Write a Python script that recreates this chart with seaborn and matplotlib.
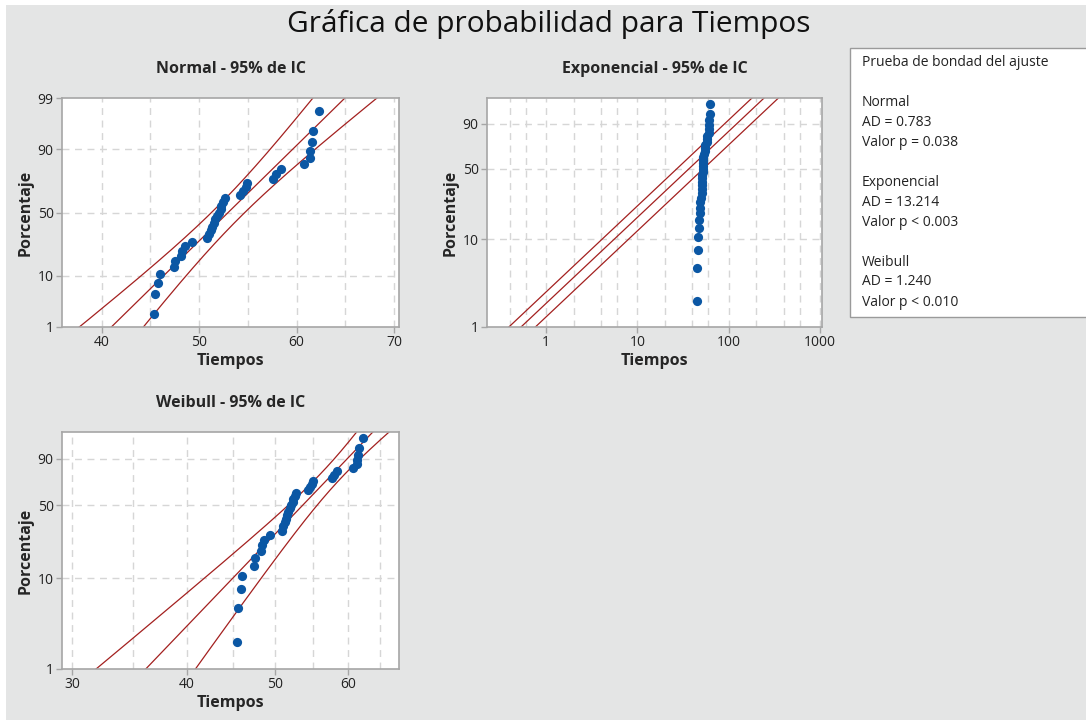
import numpy as np
import pandas as pd
import matplotlib
matplotlib.use('Agg')
import matplotlib.pyplot as plt
import seaborn as sns
from matplotlib.patches import Rectangle
from matplotlib.ticker import FixedLocator, NullFormatter
from statistics import NormalDist

# Tiempos (sorted)
tiempos = [45.4, 45.5, 45.8, 46.0, 47.4, 47.5, 48.2, 48.3, 48.6, 49.3,
           50.8, 51.0, 51.2, 51.3, 51.5, 51.6, 51.8, 52.0, 52.2, 52.3, 52.5, 52.7,
           54.2, 54.5, 54.8, 54.9, 57.6, 57.9, 58.4,
           60.8, 61.4, 61.4, 61.6, 61.7, 62.3]

# Weibull fit as drawn in the reference (shape, scale)
weibull_shape = 10.74
weibull_scale = 55.4

dist_names = ['Normal', 'Exponencial', 'Weibull']
ad_values = ['0.783', '13.214', '1.240']
p_values = ['= 0.038', '< 0.003', '< 0.010']

normal_pct_ticks = [1, 10, 50, 90, 99]
other_pct_ticks = [1, 10, 50, 90]
normal_x_ticks = [40, 50, 60, 70]
normal_x_grid = [40, 45, 50, 55, 60, 65, 70]
exp_x_ticks = [1, 10, 100, 1000]
exp_x_grid = [0.4, 0.6, 1, 2, 4, 6, 10, 20, 40, 60, 100, 200, 400, 600, 1000]
weib_x_ticks = [30, 40, 50, 60]
weib_x_grid = [30, 35, 40, 45, 50, 55, 60, 65]

BG = '#e4e5e5'
DOT = '#0b57a4'
LINE = '#a3201f'
SPINE = '#a6a6a6'
FONT = ['Open Sans', 'DejaVu Sans']

sns.set_style('white')
plt.rcParams['font.family'] = FONT
plt.rcParams['axes.unicode_minus'] = False

nd = NormalDist()
z975 = nd.inv_cdf(0.975)


def to_norm(p):
    return np.array([nd.inv_cdf(v) for v in np.atleast_1d(p)])


def to_sev(p):
    p = np.asarray(p, dtype=float)
    return np.log(-np.log(1 - p))


def chi2_ppf(q, df):
    # Wilson-Hilferty approximation
    z = nd.inv_cdf(q)
    return df * (1 - 2 / (9 * df) + z * np.sqrt(2 / (9 * df))) ** 3


x = np.sort(np.array(tiempos))
n = len(x)
ranks = np.arange(1, n + 1)
pos = (ranks - 0.3) / (n + 0.4)  # Benard median ranks
pgrid = np.linspace(0.002, 0.998, 600)

# Normal fit and CI
mu, sd = x.mean(), x.std(ddof=1)
zg = to_norm(pgrid)
nx_c = mu + zg * sd
nx_se = sd * np.sqrt((1 + zg ** 2 / 2) / n)
normal_lines = pd.DataFrame({
    'x': np.concatenate([nx_c - z975 * nx_se, nx_c, nx_c + z975 * nx_se]),
    'y': np.concatenate([zg, zg, zg]),
    'line': np.repeat(['lo', 'c', 'hi'], len(pgrid)),
})

# Exponential fit and CI
theta = x.mean()
th_lo = 2 * n * theta / chi2_ppf(0.975, 2 * n)
th_hi = 2 * n * theta / chi2_ppf(0.025, 2 * n)
wg = to_sev(pgrid)
q = -np.log(1 - pgrid)
exp_lines = pd.DataFrame({
    'x': np.concatenate([th_lo * q, theta * q, th_hi * q]),
    'y': np.concatenate([wg, wg, wg]),
    'line': np.repeat(['lo', 'c', 'hi'], len(pgrid)),
})

# Weibull line and CI on ln(x_p) = ln(eta) + w / beta
b = 1 / weibull_shape
lxp = np.log(weibull_scale) + wg * b
lse = b * np.sqrt((1.1087 - 2 * 0.2570 * wg + 0.6079 * wg ** 2) / n)
weib_lines = pd.DataFrame({
    'x': np.concatenate([np.exp(lxp - z975 * lse), np.exp(lxp), np.exp(lxp + z975 * lse)]),
    'y': np.concatenate([wg, wg, wg]),
    'line': np.repeat(['lo', 'c', 'hi'], len(pgrid)),
})

pts = pd.DataFrame({'x': x, 'ynorm': to_norm(pos), 'ysev': to_sev(pos)})

fig = plt.figure(figsize=(10.86, 7.2), dpi=100)
fig.patch.set_facecolor('white')
fig.patches.append(Rectangle((6 / 1086, 0), 1, 1 - 5 / 720, transform=fig.transFigure,
                             facecolor=BG, edgecolor='none', zorder=-10))


def px_axes(left, top, right, bottom):
    return fig.add_axes([left / 1086, 1 - bottom / 720, (right - left) / 1086, (bottom - top) / 720])


def style_axes(ax, title, xgrid, xticks, yticks, yfun, ylim, xlim, logx):
    ax.set_facecolor('white')
    if logx:
        ax.set_xscale('log')
    ax.set_xlim(*xlim)
    ax.set_ylim(*ylim)
    for xv in xgrid:
        ax.axvline(xv, color='#d6d6d6', lw=1, ls=(0, (5, 4)), zorder=0)
    for pv in [10, 50, 90]:
        ax.axhline(float(np.ravel(yfun(pv / 100))[0]), color='#d6d6d6', lw=1,
                   ls=(0, (5, 4)), zorder=0)
    ax.xaxis.set_major_locator(FixedLocator(xticks))
    ax.xaxis.set_minor_locator(FixedLocator([]))
    ax.xaxis.set_minor_formatter(NullFormatter())
    ax.set_xticklabels([str(t) for t in xticks])
    yt = [float(np.ravel(yfun(t / 100))[0]) for t in yticks]
    ax.set_yticks(yt)
    ax.set_yticklabels([str(t) for t in yticks])
    ax.tick_params(axis='both', length=4, width=1, color=SPINE, labelsize=10,
                   labelcolor='#222222', pad=2, direction='out')
    ax.tick_params(left=True, bottom=True)
    for s in ax.spines.values():
        s.set_color(SPINE)
        s.set_linewidth(1.2)
    ax.set_title(title, fontsize=11.5, fontweight='bold', pad=18)
    ax.set_xlabel('Tiempos', fontsize=11.5, fontweight='bold', labelpad=2)
    ax.set_ylabel('Porcentaje', fontsize=11.5, fontweight='bold', labelpad=3)


def draw(ax, lines, ycol):
    for name in ['lo', 'c', 'hi']:
        sns.lineplot(data=lines[lines['line'] == name], x='x', y='y', ax=ax, color=LINE,
                     lw=0.9, sort=False, estimator=None, legend=False, zorder=2)
    sns.scatterplot(data=pts, x='x', y=ycol, ax=ax, color=DOT, s=44, edgecolor=DOT,
                    linewidth=0, legend=False, zorder=3)


ax1 = px_axes(62, 98, 399, 327)
draw(ax1, normal_lines, 'ynorm')
style_axes(ax1, 'Normal - 95% de IC', normal_x_grid, normal_x_ticks, normal_pct_ticks,
           to_norm, (to_norm(0.01)[0], to_norm(0.99)[0]), (35.95, 70.5), False)

ax2 = px_axes(487, 98, 822, 327)
draw(ax2, exp_lines, 'ysev')
style_axes(ax2, 'Exponencial - 95% de IC', exp_x_grid, exp_x_ticks, other_pct_ticks,
           to_sev, (to_sev(0.01), to_sev(0.99)), (0.226, 1050), True)

ax3 = px_axes(62, 432, 399, 669)
draw(ax3, weib_lines, 'ysev')
style_axes(ax3, 'Weibull - 95% de IC', weib_x_grid, weib_x_ticks, other_pct_ticks,
           to_sev, (to_sev(0.01), to_sev(0.99)), (29.25, 68.2), True)

fig.text(549 / 1086, 1 - 24 / 720, 'Gráfica de probabilidad para Tiempos', ha='center',
         va='center', fontsize=21.5, color='#111111')

# goodness-of-fit box
fig.patches.append(Rectangle((850 / 1086, 1 - 317 / 720), 240 / 1086, 269 / 720,
                             transform=fig.transFigure, facecolor='white',
                             edgecolor='#9a9a9a', lw=1, zorder=1))
box_lines = ['Prueba de bondad del ajuste', '']
for name, ad, pv in zip(dist_names, ad_values, p_values):
    box_lines += [name, f'AD = {ad}', f'Valor p {pv}', '']
y0 = 62
for i, txt in enumerate(box_lines[:-1]):
    fig.text(862 / 1086, 1 - (y0 + i * 20) / 720, txt, ha='left', va='center',
             fontsize=10, color='#222222', zorder=2)

fig.savefig('out.png', dpi=100, facecolor=fig.get_facecolor())
